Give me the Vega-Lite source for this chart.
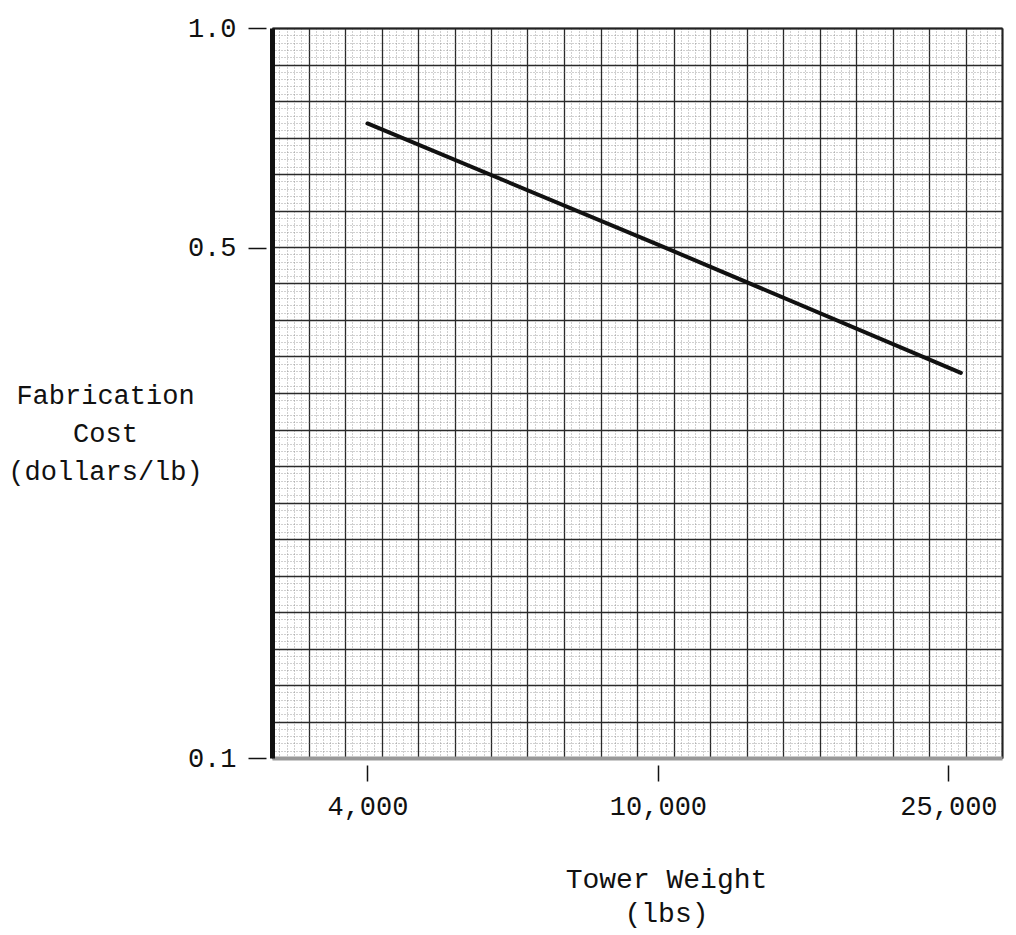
{
  "$schema": "https://vega.github.io/schema/vega-lite/v6.json",
  "width": 730,
  "height": 730,
  "autosize": {"type": "none"},
  "padding": {"left": 272, "top": 28, "right": 14, "bottom": 177},
  "background": "white",
  "view": {"stroke": null},
  "datasets": {
    "curve": [
      {"weight": 4000, "cost": 0.74},
      {"weight": 10000, "cost": 0.505},
      {"weight": 26000, "cost": 0.337}
    ],
    "sheet": [
      {"u": 0, "v": 0},
      {"u": 100, "v": 100}
    ]
  },
  "config": {
    "axis": {
      "labelFont": "Liberation Mono",
      "titleFont": "Liberation Mono",
      "labelColor": "#111",
      "titleColor": "#111",
      "titleFontWeight": "normal"
    }
  },
  "layer": [
    {
      "description": "Graph-paper ruling: heavy line every 5 minor divisions",
      "data": {"name": "sheet"},
      "mark": {"type": "point", "opacity": 0},
      "encoding": {
        "x": {
          "field": "u",
          "type": "quantitative",
          "scale": {"domain": [0, 100], "nice": false, "zero": false},
          "axis": {
            "orient": "top",
            "tickCount": 100,
            "labels": false,
            "ticks": false,
            "domain": true,
            "domainColor": "#222",
            "domainWidth": 2,
            "title": null,
            "grid": true,
            "gridColor": {"condition": {"test": "datum.value % 5 === 0", "value": "#2a2a2a"}, "value": "#7a7a7a"},
            "gridWidth": {"condition": {"test": "datum.value % 5 === 0", "value": 1.3}, "value": 0.7},
            "gridDash": {"condition": {"test": "datum.value % 5 === 0", "value": []}, "value": [1, 2]}
          }
        },
        "y": {
          "field": "v",
          "type": "quantitative",
          "scale": {"domain": [0, 100], "nice": false, "zero": false},
          "axis": {
            "orient": "right",
            "tickCount": 100,
            "labels": false,
            "ticks": false,
            "domain": true,
            "domainColor": "#222",
            "domainWidth": 2,
            "title": null,
            "grid": true,
            "gridColor": {"condition": {"test": "datum.value % 5 === 0", "value": "#2a2a2a"}, "value": "#7a7a7a"},
            "gridWidth": {"condition": {"test": "datum.value % 5 === 0", "value": 1.3}, "value": 0.7},
            "gridDash": {"condition": {"test": "datum.value % 5 === 0", "value": []}, "value": [1, 2]}
          }
        }
      }
    },
    {
      "description": "Fabrication cost against tower weight",
      "data": {"name": "curve"},
      "mark": {"type": "line", "color": "#111", "strokeWidth": 4, "strokeCap": "round"},
      "encoding": {
        "x": {
          "field": "weight",
          "type": "quantitative",
          "scale": {"type": "log", "domain": [2960, 29600], "nice": false},
          "axis": {
            "orient": "bottom",
            "zindex": 1,
            "values": [4000, 10000, 25000],
            "format": ",d",
            "grid": false,
            "labelFontSize": 27,
            "labelPadding": 12,
            "labelFlush": false,
            "tickSize": 23,
            "tickWidth": 1.5,
            "tickColor": "#111",
            "tickDash": [0, 7, 16, 0],
            "domainColor": "#999",
            "domainWidth": 4,
            "title": ["Tower Weight", "(lbs)"],
            "titleFontSize": 28,
            "titleAlign": "center",
            "titleBaseline": "alphabetic",
            "titleLineHeight": 34,
            "titleX": 394,
            "titleY": 129
          }
        },
        "y": {
          "field": "cost",
          "type": "quantitative",
          "scale": {"type": "log", "domain": [0.1, 1], "nice": false},
          "axis": {
            "orient": "left",
            "zindex": 1,
            "values": [0.1, 0.5, 1],
            "format": ".1f",
            "grid": false,
            "labelFontSize": 27,
            "labelPadding": 12,
            "labelFlush": false,
            "tickSize": 24,
            "tickWidth": 1.5,
            "tickColor": "#111",
            "tickDash": [0, 6, 18, 0],
            "domainColor": "#111",
            "domainWidth": 5,
            "title": ["Fabrication", "Cost", "(dollars/lb)"],
            "titleFontSize": 27,
            "titleAngle": 0,
            "titleAlign": "center",
            "titleBaseline": "alphabetic",
            "titleLineHeight": 38,
            "titleX": -167,
            "titleY": 375
          }
        }
      }
    }
  ],
  "resolve": {
    "scale": {"x": "independent", "y": "independent"},
    "axis": {"x": "independent", "y": "independent"}
  }
}
